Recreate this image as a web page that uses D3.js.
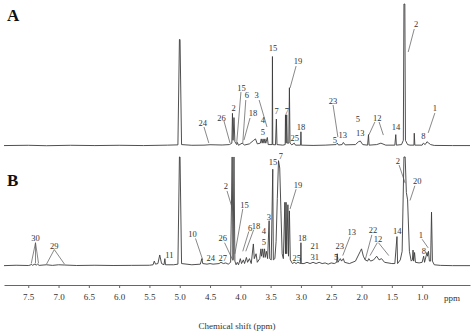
<!DOCTYPE html>
<html>
<head>
<meta charset="utf-8">
<script src="https://cdn.jsdelivr.net/npm/d3@7"></script>
<style>
  body { margin: 0; background: #fff; }
  text { font-family: "Liberation Serif", "DejaVu Serif", serif; fill: #333; }
</style>
</head>
<body>
<div id="nmr"></div>
<script>
// spectrum A, [ppm, intensity]
var specA = [
  [7.9,0.3],[7.5,0.5],[7.2,0.2],[6.8,0.5],[6.4,0.3],[6.0,0.5],[5.6,0.3],[5.2,0.6],[5.03,0.8],
  [5.005,75],[4.995,75],[4.97,1],[4.8,0.5],[4.6,0.6],[4.5,0.9],[4.3,0.7],[4.18,1],[4.14,2],
  [4.13,23],[4.12,4],[4.105,20],[4.09,3],[4.06,1],[4.05,2.5],[4.03,0.5],[3.97,2],[3.93,0.7],
  [3.85,1.5],[3.78,4],[3.75,5],[3.72,1.5],[3.67,2],[3.655,5],[3.64,2],[3.625,5],[3.61,2],
  [3.595,5],[3.58,2],[3.555,6],[3.54,1],[3.475,1],[3.47,63],[3.465,1],[3.42,0.8],[3.405,19],
  [3.395,1],[3.3,0.6],[3.26,1],[3.255,22],[3.245,2],[3.235,22],[3.225,2],[3.2,2],[3.19,41],
  [3.18,2],[3.15,0.8],[3.11,2],[3.09,0.6],[3.005,0.6],[3.0,10],[2.995,0.6],[2.8,0.4],[2.6,0.6],
  [2.42,1],[2.4,2],[2.38,0.7],[2.32,1],[2.3,2.5],[2.27,0.8],[2.1,1],[2.05,3],[2.02,3.5],
  [1.98,1],[1.9,0.6],[1.885,8],[1.875,0.6],[1.75,1],[1.68,2],[1.6,0.6],[1.45,0.6],[1.435,8],
  [1.425,0.6],[1.34,1],[1.31,4],[1.3,100],[1.285,100],[1.275,4],[1.24,1],[1.2,0.6],[1.135,0.6],
  [1.13,9],[1.12,0.6],[1.0,0.6],[0.98,2],[0.95,1],[0.92,3],[0.89,2],[0.86,1],[0.8,0.4],
  [0.5,0.3],[0.21,0.3]
];

// spectrum B
var specB = [
  [7.9,0.3],[7.7,0.6],[7.5,0.4],[7.46,0.8],[7.45,1.5],[7.43,0.6],[7.39,1.5],[7.37,0.7],[7.345,1.5],
  [7.32,0.5],[7.2,1],[7.1,0.5],[7.0,1],[6.9,0.8],[6.7,0.4],[6.4,0.6],[6.1,0.4],[5.8,0.5],[5.5,0.6],
  [5.44,1],[5.42,4],[5.40,1.5],[5.36,2],[5.33,9],[5.30,2],[5.26,1],[5.245,6],[5.235,1],[5.1,1],
  [5.03,1.5],[5.005,89],[4.995,89],[4.97,2],[4.8,1],[4.66,1.5],[4.635,6],[4.62,2],[4.55,1.5],
  [4.5,2],[4.45,1.5],[4.35,2],[4.32,3],[4.28,2],[4.24,2.5],[4.2,1.5],[4.16,3],[4.135,89],[4.12,5],
  [4.105,89],[4.09,4],[4.07,1],[4.05,3],[4.03,1],[4.0,6],[3.98,2],[3.95,5],[3.93,2],[3.9,7],
  [3.88,3],[3.85,6],[3.82,2],[3.785,18],[3.77,6],[3.74,10],[3.72,3],[3.68,6],[3.66,14],[3.65,8],
  [3.63,14],[3.62,7],[3.6,14],[3.59,7],[3.57,12],[3.55,6],[3.525,37],[3.515,6],[3.49,5],
  [3.465,79],[3.455,5],[3.43,6],[3.41,20],[3.39,55],[3.37,86],[3.35,80],[3.33,45],[3.31,10],
  [3.29,6],[3.265,52],[3.255,10],[3.245,52],[3.235,10],[3.215,50],[3.205,8],[3.19,45],[3.175,5],
  [3.14,2],[3.11,3],[3.08,2],[3.05,3],[3.005,2],[3.0,19],[2.995,2],[2.95,2],[2.9,3],[2.85,2],
  [2.8,3],[2.75,2],[2.7,3],[2.65,2],[2.6,2.5],[2.55,1.5],[2.5,2.5],[2.45,2],[2.41,3],[2.4,10],
  [2.39,3],[2.35,6],[2.33,4],[2.3,6],[2.28,3],[2.2,2],[2.1,4],[2.05,9],[2.02,12],[2.0,14],
  [1.97,8],[1.94,5],[1.9,4],[1.88,6],[1.85,4],[1.8,5],[1.75,8],[1.71,5],[1.67,6],[1.62,3],
  [1.5,2],[1.45,2],[1.415,24],[1.405,2],[1.36,5],[1.33,12],[1.30,89],[1.28,89],[1.26,60],
  [1.24,54],[1.21,12],[1.18,4],[1.16,5],[1.15,13],[1.14,4],[1.125,11],[1.11,3],[1.05,2.5],
  [1.0,3],[0.975,8],[0.96,3],[0.93,9],[0.92,11],[0.91,8],[0.895,12],[0.88,4],[0.86,4],
  [0.845,44],[0.83,4],[0.8,1],[0.7,0.5],[0.5,0.3],[0.21,0.3]
];

// peak labels: [text, ppm, intensity]
var labelsA = [
  ["24",4.62,16],["26",4.31,20],["2",4.11,27],["15",3.98,41],["6",3.89,36],["18",3.79,23],
  ["3",3.73,36],["4",3.63,18],["5",3.63,10],["15",3.46,69],["7",3.40,25],["7",3.23,25],
  ["19",3.05,60],["25",3.10,5.6],["18",3.0,13.4],["23",2.47,32],["5",2.44,4.2],["13",2.31,7.7],
  ["5",2.06,19],["13",2.02,9.2],["12",1.74,20],["14",1.43,13.4],["2",1.10,86],["8",0.98,7],
  ["1",0.79,27]
];
var labelsB = [
  ["30",7.38,22.5],["29",7.07,16],["11",5.17,9.2],["10",4.79,26],["24",4.49,6.3],["27",4.29,6.3],
  ["26",4.29,22.5],["2",4.24,65],["7",3.33,90],["15",3.46,84.5],["19",3.05,66],["15",3.93,50],
  ["6",3.84,31],["18",3.74,33],["3",3.53,40],["4",3.61,28.5],["5",3.61,20],["18",2.98,23.2],
  ["25",3.07,6.3],["21",2.77,16],["31",2.77,7.5],["5",2.42,7.7],["23",2.36,16],["13",2.16,27.5],
  ["22",1.81,29],["12",1.73,21.8],["14",1.41,28.5],["2",1.40,86],["20",1.08,69],["1",1.02,25.4],
  ["8",0.97,12]
];

// leader lines: [ppm1, int1, ppm2, int2]
var leadersA = [
  [4.60,13.4,4.52,2.1],[4.27,17.6,4.17,2.1],[3.99,38,4.06,2.1],[3.91,32.4,3.96,2.1],
  [3.84,19.7,3.94,4.2],[3.69,32.4,3.56,13.4],[3.08,56.3,3.18,40.8],[2.47,28.9,2.39,6.3],
  [1.78,16.9,1.88,7.7],[1.71,16.9,1.64,7.7],[1.13,82.4,1.23,66.2],[0.79,23.2,0.90,9.2]
];
var leadersB = [
  [7.38,19,7.45,2.1],[7.38,19,7.38,2.1],[7.38,19,7.33,2.1],[7.07,13.4,7.20,1.4],[7.07,13.4,6.90,1.4],
  [4.74,22.5,4.62,4.9],[4.26,19,4.12,4.2],[4.22,61.3,4.12,45],[3.08,62.7,3.18,46.5],
  [3.96,46.5,4.09,9.9],[3.86,28.2,3.96,12],[3.78,29.6,3.91,12],[2.19,23.9,2.31,8.5],
  [1.83,25.4,1.94,4.9],[1.74,19,1.86,8.5],[1.72,19,1.55,8.5],[1.38,82.4,1.28,67.6],
  [1.12,65.5,1.2,53.5],[1.0,21.8,0.9,14.8]
];

var ticks = [7.5,7.0,6.5,6.0,5.5,5.0,4.5,4.0,3.5,3.0,2.5,2.0,1.5,1.0];

var width = 472, height = 336;

var svg = d3.select("#nmr")
  .append("svg")
    .attr("width", width)
    .attr("height", height);

var x = d3.scaleLinear()
    .domain([7.9, 0.21])
    .range([4, 470]);

var yA = d3.scaleLinear().domain([0, 100]).range([146, 4]);
var yB = d3.scaleLinear().domain([0, 100]).range([266, 143.5]);

function drawPanel(spec, labels, leaders, y, tag, tagY) {
  svg.append("path")
      .datum(spec)
      .attr("fill", "none")
      .attr("stroke", "#3c3c3c")
      .attr("stroke-width", 0.9)
      .attr("d", d3.line()
        .x(function(d) { return x(d[0]) })
        .y(function(d) { return y(d[1]) }));

  svg.append("g")
    .selectAll("line")
    .data(leaders)
    .enter()
    .append("line")
      .attr("x1", function(d) { return x(d[0]) })
      .attr("y1", function(d) { return y(d[1]) })
      .attr("x2", function(d) { return x(d[2]) })
      .attr("y2", function(d) { return y(d[3]) })
      .attr("stroke", "#555")
      .attr("stroke-width", 0.7);

  svg.append("g")
    .selectAll("text")
    .data(labels)
    .enter()
    .append("text")
      .attr("x", function(d) { return x(d[1]) })
      .attr("y", function(d) { return y(d[2]) })
      .attr("text-anchor", "middle")
      .attr("dominant-baseline", "central")
      .style("font-size", "8.5px")
      .text(function(d) { return d[0] });

  svg.append("text")
      .attr("x", 7)
      .attr("y", tagY)
      .style("font-size", "17px")
      .style("font-weight", "bold")
      .style("fill", "#111")
      .text(tag);
}

drawPanel(specA, labelsA, leadersA, yA, "A", 21);
drawPanel(specB, labelsB, leadersB, yB, "B", 186);

var axis = svg.append("g")
    .attr("transform", "translate(0,285)")
    .call(d3.axisBottom(x)
      .tickValues(ticks)
      .tickFormat(d3.format(".1f"))
      .tickSizeInner(3)
      .tickSizeOuter(0));
axis.select(".domain").attr("stroke", "#666");
axis.selectAll(".tick line").attr("stroke", "#666");
axis.selectAll(".tick text")
    .attr("y", 9)
    .style("font-family", "Liberation Serif, serif")
    .style("font-size", "9px")
    .style("fill", "#333");

svg.append("text")
    .text("ppm")
    .attr("x", 452)
    .attr("y", 301)
    .attr("text-anchor", "middle")
    .style("font-size", "9px");

svg.append("text")
    .text("Chemical shift (ppm)")
    .attr("x", 237)
    .attr("y", 329)
    .attr("text-anchor", "middle")
    .style("font-size", "9px");
</script>
</body>
</html>
